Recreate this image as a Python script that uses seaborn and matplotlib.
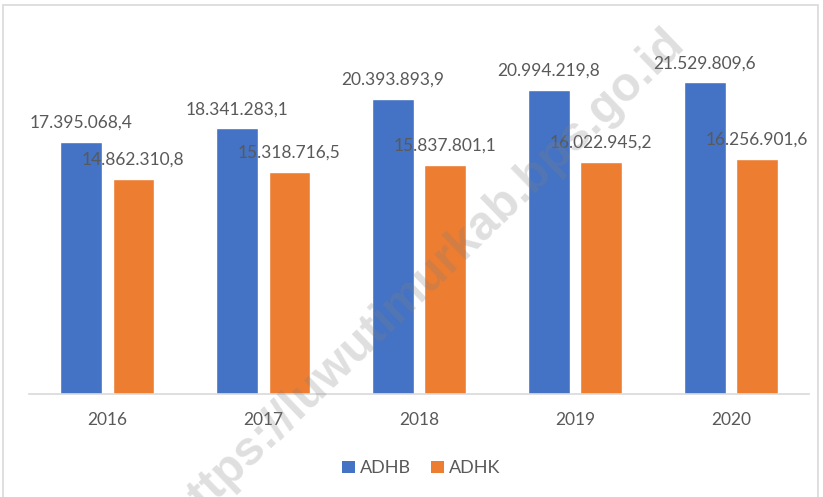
import matplotlib
matplotlib.use('Agg')
import matplotlib.pyplot as plt
import seaborn as sns
import pandas as pd
from matplotlib.patches import Rectangle, Patch

years = ['2016', '2017', '2018', '2019', '2020']
adhb = [17395068.4, 18341283.1, 20393893.9, 20994219.8, 21529809.6]
adhk = [14862310.8, 15318716.5, 15837801.1, 16022945.2, 16256901.6]
series = ['ADHB', 'ADHK']
colors = ['#4472C4', '#ED7D31']
text_color = '#595959'


def fmt_id(v):
    """Indonesian style number: 17.395.068,4"""
    s = f"{v:,.1f}"
    return s.replace(',', 'X').replace('.', ',').replace('X', '.')


df = pd.DataFrame({
    'Tahun': years * 2,
    'Nilai': adhb + adhk,
    'Seri': ['ADHB'] * len(years) + ['ADHK'] * len(years),
})

sns.set_style('white')
plt.rcParams['font.family'] = ['Lato', 'DejaVu Sans']

fig = plt.figure(figsize=(8.23, 4.97), dpi=100)
ax = fig.add_axes([0.0353, 0.2072, 0.9477, 0.7284])

sns.barplot(data=df, x='Tahun', y='Nilai', hue='Seri', palette=colors,
            width=0.667, gap=0.21, saturation=1, ax=ax, legend=False)

for container in ax.containers:
    ax.bar_label(container, labels=[fmt_id(b.get_height()) for b in container],
                 padding=8, fontsize=12.5, color=text_color)

ax.set_ylim(0, 25000000)
ax.set_xlabel('')
ax.set_ylabel('')
ax.set_yticks([])
for side in ['left', 'top', 'right']:
    ax.spines[side].set_visible(False)
ax.spines['bottom'].set_color('#D9D9D9')
ax.spines['bottom'].set_linewidth(1.2)
ax.tick_params(axis='x', length=0, pad=13, labelsize=12.5, labelcolor=text_color)

handles = [Patch(facecolor=c, edgecolor='none') for c in colors]
fig.legend(handles, series, loc='center', bbox_to_anchor=(0.512, 0.058), ncol=2,
           frameon=False, fontsize=13, labelcolor=text_color,
           handlelength=0.7, handleheight=0.7, handletextpad=0.3, columnspacing=1.1)

# watermark
fig.text(0.518, 0.44, 'https://luwutimurkab.bps.go.id', rotation=44, fontsize=34.5,
         fontweight='bold', color='#808080', alpha=0.25, ha='center', va='center',
         family='Liberation Sans', rotation_mode='anchor')

# outer border
fig.patches.append(Rectangle((0.004, -0.01), 0.99, 1.0, transform=fig.transFigure,
                             fill=False, edgecolor='#D9D9D9', linewidth=1.2))

plt.savefig('out.png', dpi=100)
